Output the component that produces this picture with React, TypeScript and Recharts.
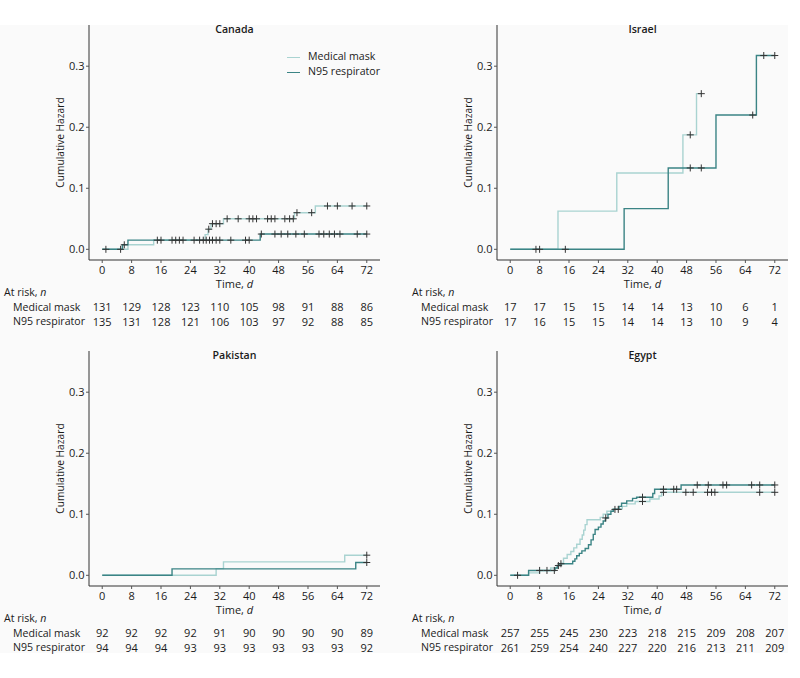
import React from 'react';
import { ComposedChart, Line, Scatter, XAxis, YAxis } from 'recharts';

const TIME_TICKS = [0, 8, 16, 24, 32, 40, 48, 56, 64, 72];
const HAZARD_TICKS = [0, 0.1, 0.2, 0.3];

const MASK_COLOR = '#a9d3d1';
const N95_COLOR = '#3b8485';
const FONT = '"Open Sans", sans-serif';
const TEXT = '#1a1a1a';

// step curves: [day, cumulative hazard] at each jump
const canadaMask = [[0, 0], [7, 0.0076], [14, 0.0153], [28, 0.024], [28.8, 0.033], [29.6, 0.042], [33, 0.05], [52.3, 0.06], [58, 0.071], [72, 0.071]];
const canadaN95 = [[0, 0], [5.5, 0.0074], [7, 0.015], [43, 0.025], [72, 0.025]];
const canadaMaskCensor = [29, 30, 31, 32, 34, 37, 40, 41, 42, 45, 46, 47, 49.7, 51, 52, 53, 57, 61.3, 64, 68, 72];
const canadaN95Censor = [1, 5, 6, 15, 16, 19, 20, 21, 22, 25, 26.5, 27.5, 28.3, 29.2, 30, 31, 32, 35, 39, 40, 43.3, 47, 48.7, 50.5, 52.7, 55, 59, 60.3, 61.8, 63.2, 64.7, 69.4, 72];
const canadaMaskRisk = [131, 129, 128, 123, 110, 105, 98, 91, 88, 86];
const canadaN95Risk = [135, 131, 128, 121, 106, 103, 97, 92, 88, 85];

const israelMask = [[0, 0], [13, 0.0625], [29, 0.125], [47, 0.1875], [50.7, 0.255], [52, 0.255]];
const israelN95 = [[0, 0], [31, 0.0667], [43, 0.1333], [56, 0.22], [67, 0.3175], [72, 0.3175]];
const israelMaskCensor = [49, 52];
const israelN95Censor = [7, 8, 15, 49, 52, 66, 69, 72];
const israelMaskRisk = [17, 17, 15, 15, 14, 14, 13, 10, 6, 1];
const israelN95Risk = [17, 16, 15, 15, 14, 14, 13, 10, 9, 4];

const pakistanMask = [[0, 0], [31, 0.011], [33, 0.022], [66, 0.033], [72, 0.033]];
const pakistanN95 = [[0, 0], [19, 0.0106], [69, 0.021], [72, 0.021]];
const pakistanMaskCensor = [72];
const pakistanN95Censor = [72];
const pakistanMaskRisk = [92, 92, 92, 92, 91, 90, 90, 90, 90, 89];
const pakistanN95Risk = [94, 94, 94, 93, 93, 93, 93, 93, 93, 92];

const egyptMask = [[0, 0], [5, 0.004], [8, 0.008], [11, 0.012], [13, 0.016], [14, 0.02], [14.5, 0.028], [15.5, 0.034], [16.5, 0.039], [17.3, 0.045], [18.1, 0.051], [19, 0.059], [19.6, 0.066], [20, 0.074], [20.4, 0.083], [20.9, 0.091], [24.5, 0.095], [25.3, 0.1], [26.3, 0.105], [28, 0.109], [30.5, 0.113], [31.7, 0.117], [34, 0.121], [38, 0.125], [40.5, 0.13], [41.2, 0.136], [72, 0.136]];
const egyptN95 = [[0, 0], [5, 0.008], [12.2, 0.012], [12.8, 0.016], [13.3, 0.019], [17, 0.023], [17.6, 0.027], [18.1, 0.032], [18.8, 0.036], [19.5, 0.04], [20.4, 0.044], [21.3, 0.05], [22, 0.058], [22.6, 0.067], [23.1, 0.075], [24, 0.079], [24.7, 0.084], [25.3, 0.089], [25.9, 0.094], [26.6, 0.1], [27.4, 0.105], [28.1, 0.108], [29.6, 0.113], [30.3, 0.118], [31.7, 0.122], [33.3, 0.126], [34.4, 0.128], [38.8, 0.134], [39.3, 0.141], [46.5, 0.148], [72, 0.148]];
const egyptMaskCensor = [36, 41.7, 47.8, 49.8, 53.7, 54.8, 55.7, 67.9, 72];
const egyptN95Censor = [2, 8, 10, 12, 13.1, 13.8, 26, 28.5, 29.4, 36, 41.7, 44.5, 45.3, 50.9, 53.9, 57.9, 58.9, 65.7, 67.9, 72];
const egyptMaskRisk = [257, 255, 245, 230, 223, 218, 215, 209, 208, 207];
const egyptN95Risk = [261, 259, 254, 240, 227, 220, 216, 213, 211, 209];

const X_DOMAIN = [-3.6, 75.6];
const Y_DOMAIN = [-0.0175, 0.3675];

const hazardAt = (steps: number[][], t: number) => {
  let h = 0;
  for (const [st, sh] of steps) if (st <= t) h = sh;
  return h;
};

const Cross = (props: any) => {
  const { cx, cy } = props;
  if (cx == null || cy == null) return null;
  return (
    <path
      d={`M${cx - 3.5},${cy}H${cx + 3.5}M${cx},${cy - 3.5}V${cy + 3.5}`}
      stroke="#333"
      strokeWidth={1}
      fill="none"
    />
  );
};

// html text placed by its visual centre line
const label = (left: number, centerY: number, extra: React.CSSProperties = {}): React.CSSProperties => ({
  position: 'absolute',
  left,
  top: centerY - 6.8,
  fontFamily: FONT,
  fontSize: 10.6,
  lineHeight: '12px',
  color: TEXT,
  whiteSpace: 'nowrap',
  ...extra,
});

interface PanelProps {
  left: number;
  top: number;
  title: string;
  mask: number[][];
  n95: number[][];
  maskCensor: number[];
  n95Censor: number[];
  maskRisk: number[];
  n95Risk: number[];
  legend?: boolean;
}

function Panel(p: PanelProps) {
  const maskData = p.mask.map(([t, h]) => ({ t, h }));
  const n95Data = p.n95.map(([t, h]) => ({ t, h }));
  const marks = [
    ...p.maskCensor.map((t) => ({ t, h: hazardAt(p.mask, t) })),
    ...p.n95Censor.map((t) => ({ t, h: hazardAt(p.n95, t) })),
  ];
  const tableTick = { fontSize: 11, fill: TEXT, fontFamily: FONT };

  return (
    <div style={{ position: 'absolute', left: p.left, top: p.top, width: 400, height: 330 }}>
      <ComposedChart width={400} height={330} margin={{ top: 25, right: 20, bottom: 2, left: 0 }}>
        <XAxis
          xAxisId={0}
          dataKey="t"
          type="number"
          domain={X_DOMAIN}
          allowDataOverflow
          ticks={TIME_TICKS}
          interval={0}
          height={40}
          tickSize={3}
          tickMargin={3.1}
          axisLine={{ stroke: '#333' }}
          tickLine={{ stroke: '#555' }}
          tick={{ fontSize: 11, fill: TEXT, fontFamily: FONT }}
        />
        {/* at-risk rows, drawn as extra bottom axes sharing the time scale */}
        <XAxis
          xAxisId={1}
          dataKey="t"
          type="number"
          domain={X_DOMAIN}
          allowDataOverflow
          ticks={TIME_TICKS}
          interval={0}
          height={14}
          axisLine={false}
          tickLine={false}
          tickSize={0}
          tickMargin={3.6}
          tick={tableTick}
          tickFormatter={(v: number) => String(p.maskRisk[TIME_TICKS.indexOf(v)] ?? '')}
        />
        <XAxis
          xAxisId={2}
          dataKey="t"
          type="number"
          domain={X_DOMAIN}
          allowDataOverflow
          ticks={TIME_TICKS}
          interval={0}
          height={14}
          axisLine={false}
          tickLine={false}
          tickSize={0}
          tickMargin={3.8}
          tick={tableTick}
          tickFormatter={(v: number) => String(p.n95Risk[TIME_TICKS.indexOf(v)] ?? '')}
        />
        <YAxis
          type="number"
          domain={Y_DOMAIN}
          allowDataOverflow
          ticks={HAZARD_TICKS}
          interval={0}
          width={89}
          tickSize={3}
          tickMargin={1.5}
          axisLine={{ stroke: '#333' }}
          tickLine={{ stroke: '#555' }}
          tick={{ fontSize: 11, fill: TEXT, fontFamily: FONT }}
          tickFormatter={(v: number) => v.toFixed(1)}
          label={{
            value: 'Cumulative Hazard',
            angle: -90,
            position: 'insideLeft',
            offset: 60,
            style: { textAnchor: 'middle', fontSize: 10.2, fill: TEXT, fontFamily: FONT },
          }}
        />
        {/* hidden series so the at-risk axes have data attached */}
        <Line xAxisId={1} data={maskData} dataKey="h" stroke="none" dot={false} activeDot={false} legendType="none" isAnimationActive={false} />
        <Line xAxisId={2} data={n95Data} dataKey="h" stroke="none" dot={false} activeDot={false} legendType="none" isAnimationActive={false} />
        <Line
          xAxisId={0}
          data={maskData}
          dataKey="h"
          name="Medical mask"
          type="stepAfter"
          stroke={MASK_COLOR}
          strokeWidth={1.4}
          dot={false}
          activeDot={false}
          isAnimationActive={false}
        />
        <Line
          xAxisId={0}
          data={n95Data}
          dataKey="h"
          name="N95 respirator"
          type="stepAfter"
          stroke={N95_COLOR}
          strokeWidth={1.4}
          dot={false}
          activeDot={false}
          isAnimationActive={false}
        />
        <Scatter
          xAxisId={0}
          data={marks}
          dataKey="h"
          shape={(props: any) => <Cross {...props} />}
          legendType="none"
          isAnimationActive={false}
        />
      </ComposedChart>

      <div style={label(234.5, 30, { transform: 'translateX(-50%)', fontWeight: 600 })}>{p.title}</div>
      <div style={label(234.5, 285, { transform: 'translateX(-50%)', fontSize: 11 })}>
        Time, <i>d</i>
      </div>
      <div style={label(4, 293)}>
        At risk, <i>n</i>
      </div>
      <div style={label(13, 307.5)}>Medical mask</div>
      <div style={label(13, 322)}>N95 respirator</div>

      {p.legend && (
        <div>
          <div style={{ position: 'absolute', left: 287, top: 56.5, width: 13, height: 1.4, background: MASK_COLOR }} />
          <div style={label(308, 57)}>Medical mask</div>
          <div style={{ position: 'absolute', left: 287, top: 71.5, width: 13, height: 1.4, background: N95_COLOR }} />
          <div style={label(308, 72)}>N95 respirator</div>
        </div>
      )}
    </div>
  );
}

export default function App() {
  return (
    <div style={{ position: 'absolute', left: 0, top: 0, width: 800, height: 678, background: '#fff', overflow: 'hidden' }}>
      <div style={{ position: 'absolute', left: 0, top: 25, width: 788, height: 628, background: '#fafafa' }} />
      <Panel
        left={0}
        top={0}
        title="Canada"
        mask={canadaMask}
        n95={canadaN95}
        maskCensor={canadaMaskCensor}
        n95Censor={canadaN95Censor}
        maskRisk={canadaMaskRisk}
        n95Risk={canadaN95Risk}
        legend
      />
      <Panel
        left={408}
        top={0}
        title="Israel"
        mask={israelMask}
        n95={israelN95}
        maskCensor={israelMaskCensor}
        n95Censor={israelN95Censor}
        maskRisk={israelMaskRisk}
        n95Risk={israelN95Risk}
      />
      <Panel
        left={0}
        top={326}
        title="Pakistan"
        mask={pakistanMask}
        n95={pakistanN95}
        maskCensor={pakistanMaskCensor}
        n95Censor={pakistanN95Censor}
        maskRisk={pakistanMaskRisk}
        n95Risk={pakistanN95Risk}
      />
      <Panel
        left={408}
        top={326}
        title="Egypt"
        mask={egyptMask}
        n95={egyptN95}
        maskCensor={egyptMaskCensor}
        n95Censor={egyptN95Censor}
        maskRisk={egyptMaskRisk}
        n95Risk={egyptN95Risk}
      />
    </div>
  );
}
